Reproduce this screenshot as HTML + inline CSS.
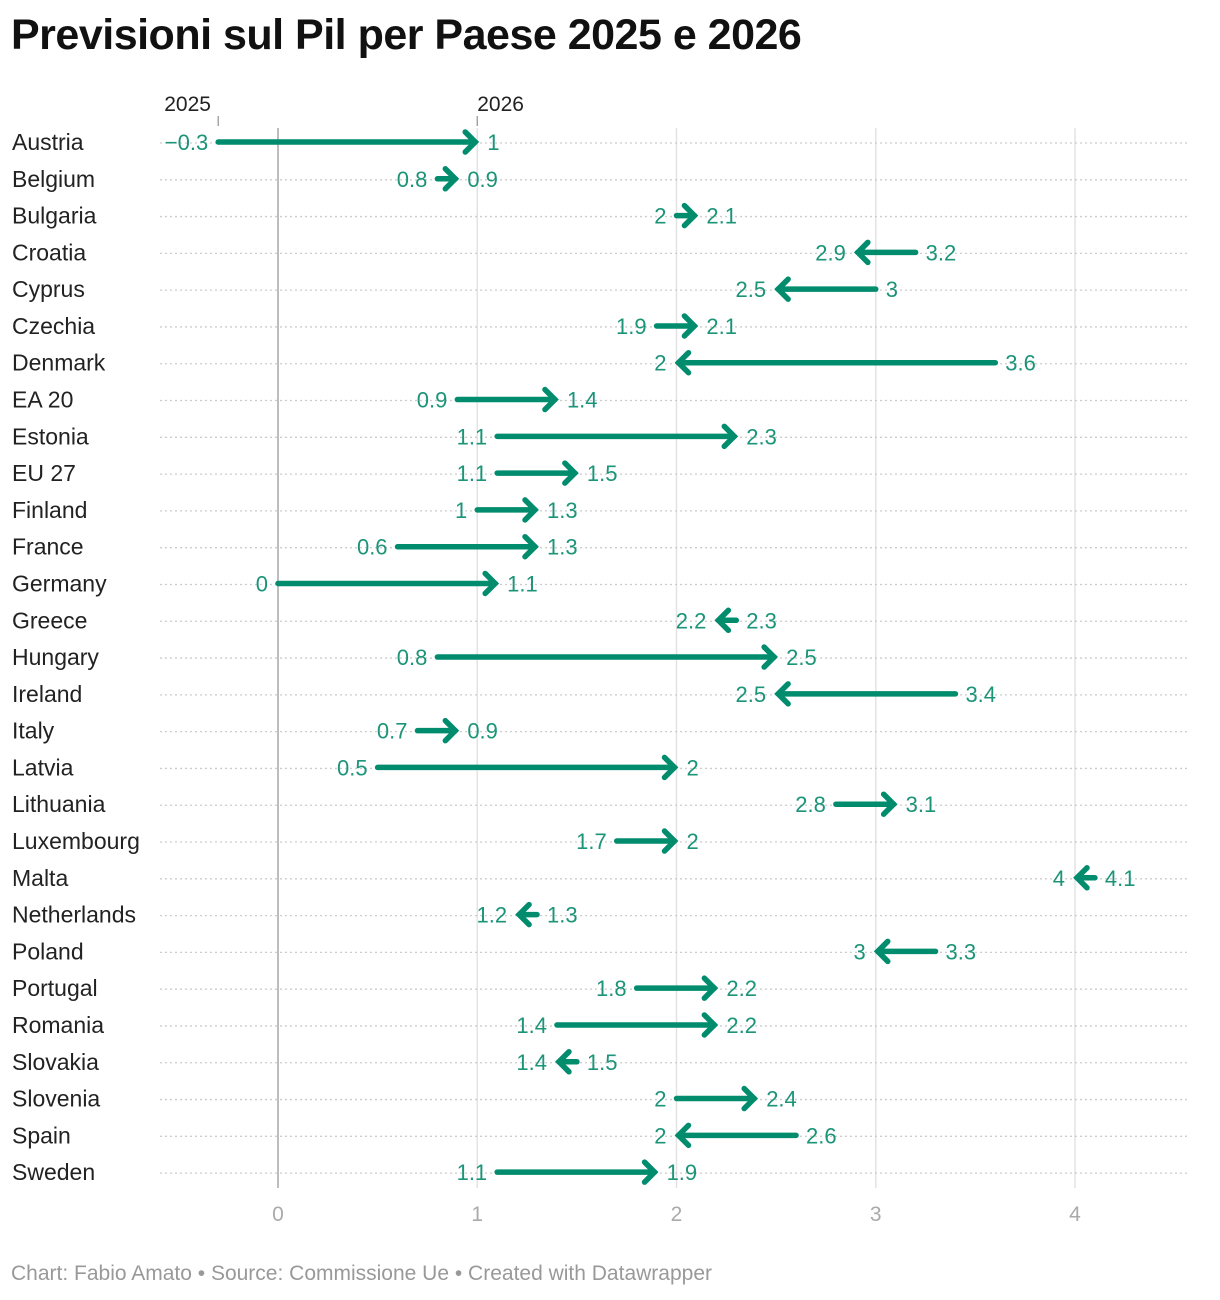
<!DOCTYPE html>
<html><head><meta charset="utf-8"><style>
body{margin:0;background:#fff;width:1220px;height:1300px;overflow:hidden;font-family:"Liberation Sans",sans-serif}
h1{position:absolute;left:11px;top:11px;margin:0;font-size:43px;font-weight:bold;color:#111;letter-spacing:-0.5px}
.foot{position:absolute;left:11px;top:1262px;font-size:21px;color:#999}
</style></head><body>
<h1>Previsioni sul Pil per Paese 2025 e 2026</h1>
<svg id="chart" width="1220" height="1300" style="position:absolute;left:0;top:0"></svg>
<div class="foot">Chart: Fabio Amato • Source: Commissione Ue • Created with Datawrapper</div>
<script>
const countries=["Austria","Belgium","Bulgaria","Croatia","Cyprus","Czechia","Denmark","EA 20","Estonia","EU 27","Finland","France","Germany","Greece","Hungary","Ireland","Italy","Latvia","Lithuania","Luxembourg","Malta","Netherlands","Poland","Portugal","Romania","Slovakia","Slovenia","Spain","Sweden"];
const v2025=[-0.3,0.8,2,3.2,3,1.9,3.6,0.9,1.1,1.1,1,0.6,0,2.3,0.8,3.4,0.7,0.5,2.8,1.7,4.1,1.3,3.3,1.8,1.4,1.5,2,2.6,1.1];
const v2026=[1,0.9,2.1,2.9,2.5,2.1,2,1.4,2.3,1.5,1.3,1.3,1.1,2.2,2.5,2.5,0.9,2,3.1,2,4,1.2,3,2.2,2.2,1.4,2.4,2,1.9];
const xTicks=[0,1,2,3,4];
const NS="http://www.w3.org/2000/svg";
const svg=document.getElementById('chart');
const x=v=>278+v*199.25;
const y=i=>142+i*36.79;
const C="#008c6d", T="#1b9478";
function mk(t,a,p){const e=document.createElementNS(NS,t);for(const k in a)e.setAttribute(k,a[k]);(p||svg).appendChild(e);return e;}
function fmt(v){return v<0?"\u2212"+Math.abs(v):String(v);}
xTicks.forEach(t=>{
  const g=mk('line',{x1:x(t),x2:x(t),y1:128,y2:1188,stroke:t===0?'#bdbdbd':'#e3e3e3','stroke-width':t===0?2:1.5});
  
  
  const l=mk('text',{x:x(t),y:1221,'text-anchor':'middle','font-size':21,fill:'#aaa'});
  l.textContent=t;
  
  
});
countries.forEach((c,i)=>{
  const yy=y(i);
  const rl=mk('line',{x1:160,x2:1190,y1:yy+1,y2:yy+1,stroke:'#ccc','stroke-width':1.3,'stroke-dasharray':'2 3'});
  
  
  const lab=mk('text',{x:12,y:yy+8,'font-size':23,fill:'#222'});
  lab.textContent=c;
  
  
  const a=v2025[i],b=v2026[i];
  const xa=x(a),xb=x(b);
  const dir=b>=a?1:-1;
  const tip=xb-dir*2;
  const ln=mk('line',{x1:xa,x2:tip,y1:yy,y2:yy,stroke:C,'stroke-width':5.5,'stroke-linecap':'round'});
  
  
  const hd=mk('polyline',{points:`${tip-dir*10},${yy-10} ${tip},${yy} ${tip-dir*10},${yy+10}`,fill:'none',stroke:C,'stroke-width':5.5,'stroke-linecap':'round','stroke-linejoin':'miter'});
  
  
  const lo=Math.min(xa,xb),hi=Math.max(xa,xb);
  const la=mk('text',{x:dir>0?lo-10:hi+10,y:yy+8,'font-size':22,fill:T,'text-anchor':dir>0?'end':'start'});
  la.textContent=fmt(a);
  
  
  const lb=mk('text',{x:dir>0?hi+10:lo-10,y:yy+8,'font-size':22,fill:T,'text-anchor':dir>0?'start':'end'});
  lb.textContent=fmt(b);
  
  
});
[[v2025[0],"2025"],[v2026[0],"2026"]].forEach(([v,t],k)=>{
  const xx=x(v);
  const tk=mk('line',{x1:xx,x2:xx,y1:116,y2:126,stroke:'#999','stroke-width':1.3});
  
  
  const tx=mk('text',{x:k===0?xx-54:xx,y:111,'font-size':21,fill:'#222'});
  tx.textContent=t;
  
  
});
</script>
</body></html>
